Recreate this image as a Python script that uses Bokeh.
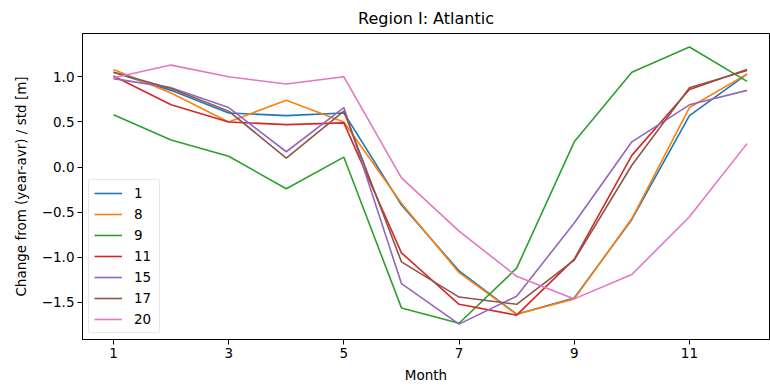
from bokeh.plotting import figure
from bokeh.models import Range1d, FixedTicker, Legend, LegendItem
from bokeh.embed import file_html
from bokeh.resources import INLINE

months = [1, 2, 3, 4, 5, 6, 7, 8, 9, 10, 11, 12]
series_names = ["1", "8", "9", "11", "15", "17", "20"]

s1 = [1.05, 0.85, 0.60, 0.57, 0.60, -0.42, -1.15, -1.63, -1.45, -0.58, 0.57, 1.03]
s8 = [1.08, 0.82, 0.50, 0.74, 0.50, -0.40, -1.17, -1.63, -1.46, -0.57, 0.66, 1.03]
s9 = [0.58, 0.30, 0.12, -0.24, 0.11, -1.56, -1.73, -1.12, 0.28, 1.05, 1.33, 0.95]
s11 = [1.01, 0.69, 0.50, 0.47, 0.49, -0.95, -1.52, -1.64, -1.02, 0.13, 0.86, 1.08]
s15 = [0.98, 0.88, 0.66, 0.17, 0.66, -1.29, -1.74, -1.43, -0.62, 0.28, 0.69, 0.85]
s17 = [1.05, 0.87, 0.62, 0.10, 0.62, -1.05, -1.44, -1.52, -1.03, 0.02, 0.88, 1.07]
s20 = [0.99, 1.13, 1.00, 0.92, 1.00, -0.12, -0.71, -1.21, -1.46, -1.19, -0.55, 0.26]
series = [s1, s8, s9, s11, s15, s17, s20]
colors = ["#1f77b4", "#ff7f0e", "#2ca02c", "#d62728", "#9467bd", "#8c564b", "#e377c2"]

x_ticks = [1, 3, 5, 7, 9, 11]
y_ticks = [-1.5, -1.0, -0.5, 0.0, 0.5, 1.0]
y_tick_labels = ["\u22121.5", "\u22121.0", "\u22120.5", "0.0", "0.5", "1.0"]

FONT = "DejaVu Sans"

p = figure(width=770, height=385, output_backend="svg", toolbar_location=None,
           x_range=Range1d(0.462, 12.39), y_range=Range1d(-1.91, 1.48),
           min_border_left=82, min_border_right=1, min_border_top=32, min_border_bottom=44,
           title="Region I: Atlantic")
p.title.align = "center"
p.title.text_font = FONT
p.title.text_font_size = "16px"
p.title.text_font_style = "normal"
p.title.text_color = "#000000"
p.title.offset = 4
p.title.standoff = 12

p.xgrid.visible = False
p.ygrid.visible = False
p.outline_line_color = "#000000"
p.outline_line_width = 1
p.background_fill_color = "white"
p.border_fill_color = "white"

for ax in (p.xaxis[0], p.yaxis[0]):
    ax.major_tick_in = 0
    ax.major_tick_out = 5
    ax.minor_tick_in = 0
    ax.minor_tick_out = 0
    ax.axis_line_color = "#000000"
    ax.major_tick_line_color = "#000000"
    ax.major_label_text_font = FONT
    ax.major_label_text_font_size = "13.5px"
    ax.major_label_text_color = "#000000"
    ax.axis_label_text_font = FONT
    ax.axis_label_text_font_size = "13.5px"
    ax.axis_label_text_font_style = "normal"
    ax.axis_label_text_color = "#000000"
    ax.major_label_standoff = 3

p.xaxis.ticker = FixedTicker(ticks=x_ticks)
p.yaxis.ticker = FixedTicker(ticks=y_ticks)
p.yaxis.major_label_overrides = {t: l for t, l in zip(y_ticks, y_tick_labels)}
p.xaxis.axis_label = "Month"
p.yaxis.axis_label = "Change from (year-avr) / std [m]"
p.xaxis.axis_label_standoff = 6
p.yaxis.axis_label_standoff = 10

items = []
for name, ys, c in zip(series_names, series, colors):
    r = p.line(months, ys, line_color=c, line_width=1.6)
    items.append(LegendItem(label=name, renderers=[r]))

legend = Legend(items=items, location="bottom_left", margin=6, padding=5,
                spacing=5, glyph_width=28, glyph_height=16, label_height=16,
                label_standoff=12, label_text_font=FONT, label_text_font_size="13.5px",
                label_text_color="#000000",
                border_line_color="#d0d0d0", border_line_width=1,
                background_fill_color="white", background_fill_alpha=0.8,
                border_radius=3)
p.add_layout(legend)

open("out.html", "w").write(file_html(p, INLINE))
